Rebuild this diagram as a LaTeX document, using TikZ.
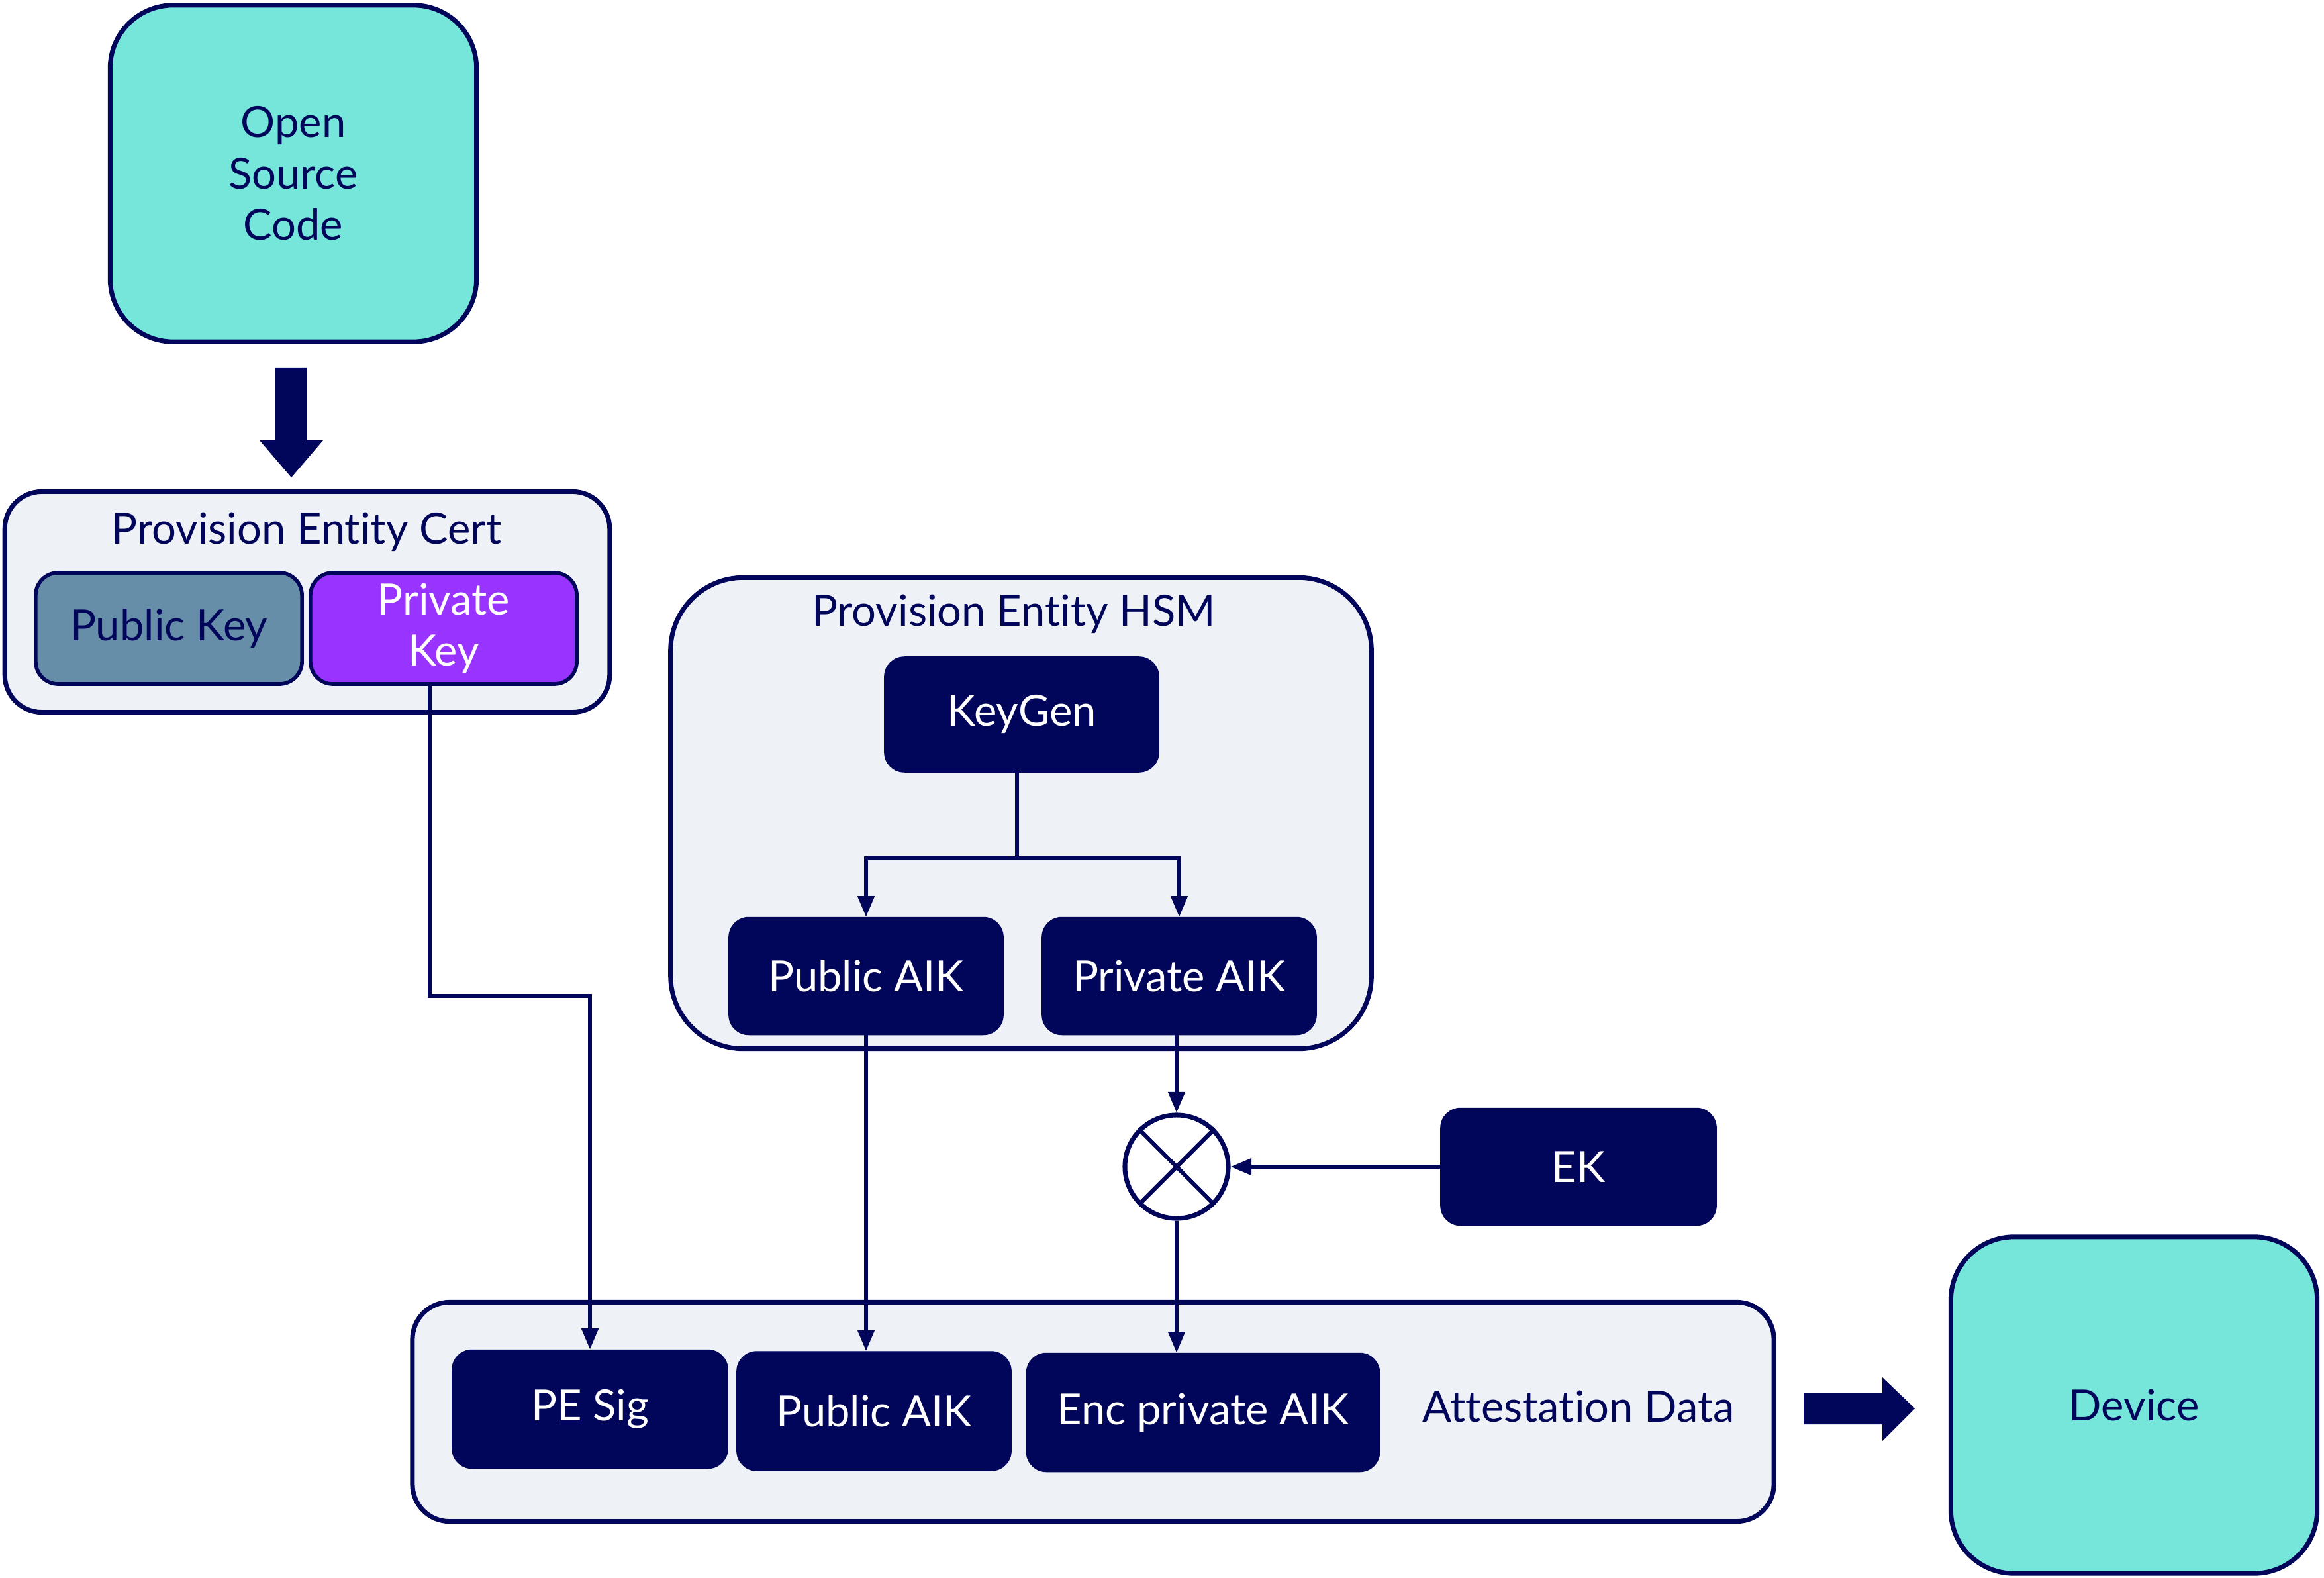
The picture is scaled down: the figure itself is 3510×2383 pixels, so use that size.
\documentclass[tikz,border=0pt]{standalone}
\usepackage{fontspec}
\setmainfont{Lato}[Ligatures=NoCommon]
\usetikzlibrary{arrows.meta,calc}
\definecolor{navy}{HTML}{02065A}
\definecolor{tealfill}{HTML}{76E6DA}
\definecolor{groupfill}{HTML}{EEF2F6}
\definecolor{steelfill}{HTML}{678EA8}
\definecolor{purplefill}{HTML}{9933FF}
\begin{document}
\begin{tikzpicture}[x=0.01cm,y=-0.01cm,
  txt/.style={font=\fontsize{18.5}{22}\selectfont, align=center},
  tealbox/.style={txt, draw=navy, line width=2pt, fill=tealfill, text=navy, rounded corners=0.95cm},
  groupbox/.style={draw=navy, line width=2pt, fill=groupfill, rounded corners=0.56cm},
  hsmbox/.style={draw=navy, line width=2pt, fill=groupfill, rounded corners=1.1cm},
  keybox/.style={txt, draw=navy, line width=1.6pt, rounded corners=0.34cm, minimum width=4.02cm, minimum height=1.68cm},
  darkbox/.style={txt, draw=navy, fill=navy, text=white, rounded corners=0.3cm, minimum height=1.77cm},
  title/.style={txt, text=navy},
  conn/.style={draw=navy, line width=1.7pt},
  arr/.style={conn, -{Triangle[width=7pt,length=9pt]}},
  bigarrow/.style={fill=navy, draw=none}
]
\useasboundingbox (0,0) rectangle (3510,2383);

% Open source code
\node[tealbox, minimum width=5.53cm, minimum height=5.08cm] (osc) at (443,262) {Open\\Source\\Code};
\fill[bigarrow] (416,555) -- (463,555) -- (463,665) -- (488,665) -- (440,721) -- (392,665) -- (416,665) -- cycle;

% Provision Entity Cert
\node[groupbox, minimum width=9.13cm, minimum height=3.33cm] (cert) at (464,909) {};
\node[title] (certtitle) at (463,803) {Provision Entity Cert};
\node[keybox, fill=steelfill, text=navy] (pubkey) at (255,949) {Public Key};
\node[keybox, fill=purplefill, text=white] (privkey) at (670,949) {Private\\Key};

% Provision Entity HSM
\node[hsmbox, minimum width=10.58cm, minimum height=7.11cm] (hsm) at (1542,1228) {};
\node[title] (hsmtitle) at (1531,927) {Provision Entity HSM};
\node[darkbox, minimum width=4.14cm, minimum height=1.74cm] (keygen) at (1543,1079) {KeyGen};
\node[darkbox, minimum width=4.14cm] (pubaik1) at (1308,1474) {Public AIK};
\node[darkbox, minimum width=4.14cm] (privaik) at (1781,1474) {Private AIK};

% XOR and EK
\node[circle, draw=navy, line width=2pt, fill=white, minimum size=1.56cm, inner sep=0pt] (xor) at (1777,1762) {};
\draw[conn, line width=1.8pt] (xor.north west) -- (xor.south east);
\draw[conn, line width=1.8pt] (xor.north east) -- (xor.south west);
\node[darkbox, minimum width=4.16cm] (ek) at (2384,1762) {EK};

% Attestation Data
\node[groupbox, minimum width=20.55cm, minimum height=3.31cm] (attest) at (1651,2132) {};
\node[darkbox, minimum width=4.16cm, minimum height=1.79cm] (pesig) at (891,2128) {PE Sig};
\node[darkbox, minimum width=4.14cm, minimum height=1.80cm] (pubaik2) at (1320,2131) {Public AIK};
\node[darkbox, minimum width=5.33cm, minimum height=1.79cm] (enc) at (1817,2133) {Enc private AIK};
\node[title] (attesttitle) at (2384,2124) {Attestation Data};

% Device
\fill[bigarrow] (2724,2104) -- (2843,2104) -- (2843,2080) -- (2892,2127) -- (2843,2176) -- (2843,2151) -- (2724,2151) -- cycle;
\node[tealbox, minimum width=5.53cm, minimum height=5.08cm] (device) at (3223,2122) {Device};

% Connectors
\coordinate (pkbend) at (649,1504);
\draw[arr] (privkey.south -| pkbend) -- (pkbend) -| (pesig.north);
\coordinate (split) at (1536,1296);
\draw[conn] (keygen.south -| split) -- (split);
\draw[arr] (split) -| (pubaik1.north);
\draw[arr] (split) -| (privaik.north);
\draw[arr] (pubaik1.south) -- (pubaik1.south |- pubaik2.north);
\draw[arr] (privaik.south -| xor.north) -- (xor.north);
\draw[arr] (ek.west) -- (xor.east);
\draw[arr] (xor.south) -- (xor.south |- enc.north);
\end{tikzpicture}
\end{document}
